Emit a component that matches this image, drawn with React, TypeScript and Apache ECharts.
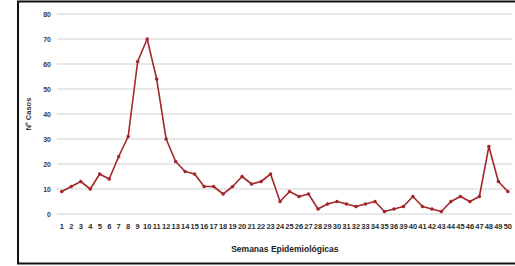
import React, { useEffect, useRef } from "react";
import * as echarts from "echarts";

const weeks = [
  "1", "2", "3", "4", "5", "6", "7", "8", "9", "10", "11", "12",
  "13", "14", "15", "16", "17", "18", "19", "20", "21", "22", "23", "24",
  "25", "26", "27", "28", "29", "30", "31", "32", "33", "34", "35", "36",
  "39", "40", "41", "42", "43", "44", "45", "46", "47", "48", "49", "50",
];

const cases = [
  9, 11, 13, 10, 16, 14, 23, 31, 61, 70, 54, 30,
  21, 17, 16, 11, 11, 8, 11, 15, 12, 13, 16, 5,
  9, 7, 8, 2, 4, 5, 4, 3, 4, 5, 1, 2,
  3, 7, 3, 2, 1, 5, 7, 5, 7, 27, 13, 9,
];

const yTicks = [0, 10, 20, 30, 40, 50, 60, 70, 80];

export default function App() {
  const ref = useRef<HTMLDivElement>(null);

  useEffect(() => {
    if (!ref.current) return;
    const chart = echarts.init(ref.current, null, { renderer: "svg" });
    chart.setOption({
      animation: false,
      backgroundColor: "#ffffff",
      grid: { left: 57, right: 0, top: 14, bottom: 52, containLabel: false },
      xAxis: {
        type: "category",
        data: weeks,
        boundaryGap: true,
        name: "Semanas Epidemiológicas",
        nameLocation: "middle",
        nameGap: 30,
        nameTextStyle: {
          fontFamily: "Liberation Sans",
          fontSize: 8.5,
          fontWeight: "bold",
          color: "#222",
        },
        axisLine: { show: false },
        axisTick: { show: false },
        axisLabel: {
          interval: 0,
          margin: 8,
          fontFamily: "Liberation Sans Narrow, Liberation Sans",
          fontSize: 7.5,
          fontWeight: "bold",
          color: "#2a2a2a",
        },
      },
      yAxis: {
        type: "value",
        min: yTicks[0],
        max: yTicks[yTicks.length - 1],
        interval: 10,
        name: "Nº Casos",
        nameLocation: "middle",
        nameGap: 15,
        nameTextStyle: {
          fontFamily: "Liberation Sans",
          fontSize: 7.5,
          fontWeight: "bold",
          color: "#333",
        },
        axisLine: { show: false },
        axisTick: { show: false },
        axisLabel: {
          margin: 6,
          fontFamily: "Liberation Sans",
          fontSize: 7,
          fontWeight: "bold",
          color: "#3a3a3a",
        },
        splitLine: { lineStyle: { color: "#e0e0e0", width: 1.5 } },
      },
      series: [
        {
          type: "line",
          data: cases,
          symbol: "circle",
          symbolSize: 3.5,
          lineStyle: { color: "#a3262b", width: 1.6 },
          itemStyle: { color: "#a3262b" },
        },
      ],
      graphic: [
        {
          type: "rect",
          shape: { x: 18, y: 1.5, width: 520, height: 262 },
          style: { fill: "none", stroke: "#111", lineWidth: 2 },
          silent: true,
        },
      ],
    });
    return () => chart.dispose();
  }, []);

  return (
    <div
      ref={ref}
      style={{ position: "fixed", left: 0, top: 0, width: 515, height: 266 }}
    />
  );
}
